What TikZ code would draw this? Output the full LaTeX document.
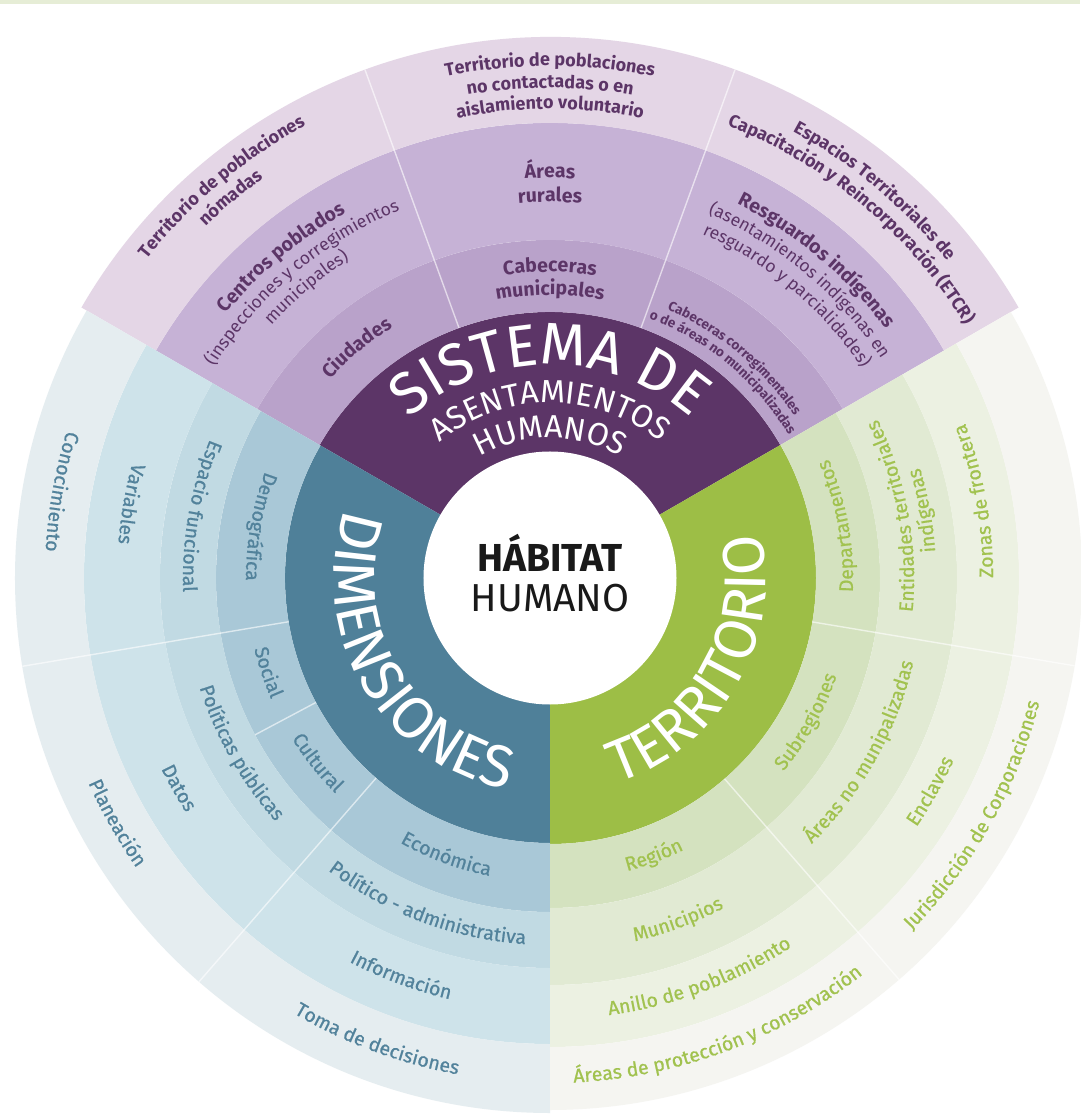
\documentclass[tikz,border=0pt]{standalone}
\usepackage{fontspec}
\setmainfont{Fira Sans}
\newfontfamily\semifira{Fira Sans}[FakeBold=0.8]
\usetikzlibrary{decorations.text}

\definecolor{sisdark}{HTML}{5C3567}
\definecolor{sisA}{HTML}{B9A2CA}
\definecolor{sisB}{HTML}{C6B2D6}
\definecolor{sisC}{HTML}{E4D6E6}
\definecolor{dimdark}{HTML}{4F8099}
\definecolor{dimA}{HTML}{A9C8D7}
\definecolor{dimB}{HTML}{C1DAE3}
\definecolor{dimC}{HTML}{CEE3EA}
\definecolor{dimD}{HTML}{E5EDF0}
\definecolor{terdark}{HTML}{9DBE46}
\definecolor{terA}{HTML}{D4E2BF}
\definecolor{terB}{HTML}{E1EAD3}
\definecolor{terC}{HTML}{ECF1E2}
\definecolor{terD}{HTML}{F5F5F1}
\definecolor{dimtext}{HTML}{52829B}
\definecolor{tertext}{HTML}{A1C24F}
\definecolor{topstrip}{HTML}{E6EDD6}

% label fonts
\newcommand{\lblsis}{\fontsize{19.5}{22}\selectfont\bfseries\color{sisdark}}
\newcommand{\lblsisreg}{\fontsize{17.5}{20}\selectfont\color{sisdark}}
\newcommand{\lblsissmall}{\fontsize{13.5}{15}\selectfont\bfseries\color{sisdark}}
\newcommand{\lblsisout}{\fontsize{18}{21}\selectfont\bfseries\color{sisdark}}
\newcommand{\lbldim}{\fontsize{19.5}{22}\selectfont\semifira\color{dimtext}}
\newcommand{\lblter}{\fontsize{19.5}{22}\selectfont\semifira\color{tertext}}
\newcommand{\bigwhite}{\fontsize{59}{60}\selectfont\color{white}}
\newcommand{\bigwhitesmall}{\fontsize{32}{34}\selectfont\color{white}}

% ring piece: from, to, inner, outer, colour
\newcommand{\ringpart}[5]{\fill[#5] (#1:#3) arc[start angle=#1, end angle=#2, radius=#3] -- (#2:#4) arc[start angle=#2, end angle=#1, radius=#4] -- cycle;}
% text on an arc: centre angle, radius, format, text
\newcommand{\toptext}[4]{\path[decorate, decoration={text along path, text align=center, text format delimiters={|}{|}, text={|#3|#4}}] ({#1+80}:#2) arc[start angle={#1+80}, end angle={#1-80}, radius=#2];}
\newcommand{\bottomtext}[4]{\path[decorate, decoration={text along path, text align=center, text format delimiters={|}{|}, text={|#3|#4}}] ({#1-80}:#2) arc[start angle={#1-80}, end angle={#1+80}, radius=#2];}

\begin{document}
\begin{tikzpicture}[x=1pt, y=1pt, sepline/.style={white, opacity=0.6, line width=1.4pt}]
        \useasboundingbox (-550,-537) rectangle (530,578);
        \fill[white] (-550,-537) rectangle (530,578);
        \fill[topstrip] (-550,574) rectangle (530,578);

        % Dark ring
        \ringpart{30}{150}{100pt}{266pt}{sisdark}
        \ringpart{150}{270}{100pt}{265pt}{dimdark}
        \ringpart{270}{390}{100pt}{266pt}{terdark}

        % Rings
        \foreach \ri/\ro/\col in {266pt/338pt/sisA, 338pt/455pt/sisB, 455pt/541pt/sisC}
            {\ringpart{30}{150}{\ri}{\ro}{\col}}
        \foreach \ri/\ro/\col in {265pt/334pt/dimA, 334pt/390pt/dimB, 390pt/466pt/dimC, 466pt/535pt/dimD}
            {\ringpart{150}{270}{\ri}{\ro}{\col}}
        \foreach \ri/\ro/\col in {266pt/330pt/terA, 330pt/407pt/terB, 407pt/469pt/terC, 469pt/532pt/terD}
            {\ringpart{270}{390}{\ri}{\ro}{\col}}

        % Separators
        \foreach \a in {70,110} \draw[sepline] (\a:266pt) -- (\a:541pt);
        \foreach \a in {189.5,229} \draw[sepline] (\a:265pt) -- (\a:535pt);
        \draw[sepline] (208:265pt) -- (208:334pt);
        \foreach \a in {311,350.5} \draw[sepline] (\a:266pt) -- (\a:532pt);

        % Centre
        \node[circle, fill=white, minimum size=253pt, inner sep=0pt] (core) at (0,0) {};
        \node[anchor=base, font=\fontsize{39}{40}\selectfont\bfseries, text=black!90] (habitat) at (0,6) {HÁBITAT};
        \node[anchor=base, font=\fontsize{39}{40}\selectfont, text=black!90] (humano) at (0,-34) {HUMANO};

        % Main words
        \toptext{90}{213pt}{\bigwhite}{SISTEMA DE}
        \toptext{90}{175pt}{\bigwhitesmall}{ASENTAMIENTOS}
        \toptext{90}{140pt}{\bigwhitesmall}{HUMANOS}
        \bottomtext{210}{216pt}{\bigwhite}{DIMENSIONES}
        \bottomtext{330}{216pt}{\bigwhite}{TERRITORIO}

        % Sistema de asentamientos humanos
        \toptext{130}{296pt}{\lblsis}{Ciudades}
        \toptext{90}{306pt}{\lblsis}{Cabeceras}
        \toptext{90}{283pt}{\lblsis}{municipales}
        \toptext{50}{293pt}{\lblsissmall}{Cabeceras corregimentales}
        \toptext{50}{278pt}{\lblsissmall}{o de áreas no municipalizadas}
        \toptext{130}{418pt}{\lblsis}{Centros poblados}
        \toptext{130}{397pt}{\lblsisreg}{(inspecciones y corregimientos}
        \toptext{130}{376pt}{\lblsisreg}{municipales)}
        \toptext{90}{400pt}{\lblsis}{Áreas}
        \toptext{90}{376pt}{\lblsis}{rurales}
        \toptext{50}{418pt}{\lblsis}{Resguardos indígenas}
        \toptext{50}{397pt}{\lblsisreg}{(asentamientos indígenas en}
        \toptext{50}{376pt}{\lblsisreg}{resguardo y parcialidades)}
        \toptext{130}{514pt}{\lblsisout}{Territorio de poblaciones}
        \toptext{130}{492pt}{\lblsisout}{nómadas}
        \toptext{90}{512pt}{\lblsisout}{Territorio de poblaciones}
        \toptext{90}{490pt}{\lblsisout}{no contactadas o en}
        \toptext{90}{469pt}{\lblsisout}{aislamiento voluntario}
        \toptext{50}{508pt}{\lblsisout}{Espacios Territoriales de}
        \toptext{50}{486pt}{\lblsisout}{Capacitación y Reincorporación (ETCR)}

        % Dimensiones
        \bottomtext{170}{304pt}{\lbldim}{Demográfica}
        \bottomtext{198.5}{304pt}{\lbldim}{Social}
        \bottomtext{218.5}{304pt}{\lbldim}{Cultural}
        \bottomtext{249.5}{304pt}{\lbldim}{Económica}
        \bottomtext{170}{367pt}{\lbldim}{Espacio funcional}
        \bottomtext{209.5}{367pt}{\lbldim}{Políticas públicas}
        \bottomtext{249.5}{367pt}{\lbldim}{Político - administrativa}
        \bottomtext{170}{433pt}{\lbldim}{Variables}
        \bottomtext{209.5}{433pt}{\lbldim}{Datos}
        \bottomtext{249.5}{433pt}{\lbldim}{Información}
        \bottomtext{170}{505pt}{\lbldim}{Conocimiento}
        \bottomtext{209.5}{505pt}{\lbldim}{Planeación}
        \bottomtext{249.5}{505pt}{\lbldim}{Toma de decisiones}

        % Territorio
        \bottomtext{290.5}{303pt}{\lblter}{Región}
        \bottomtext{330.75}{303pt}{\lblter}{Subregiones}
        \bottomtext{10.25}{303pt}{\lblter}{Departamentos}
        \bottomtext{290.5}{373pt}{\lblter}{Municipios}
        \bottomtext{330.75}{373pt}{\lblter}{Áreas no munipalizadas}
        \bottomtext{10.25}{364pt}{\lblter}{Entidades territoriales}
        \bottomtext{10.25}{386pt}{\lblter}{indígenas}
        \bottomtext{290.5}{441pt}{\lblter}{Anillo de poblamiento}
        \bottomtext{330.75}{443pt}{\lblter}{Enclaves}
        \bottomtext{10.25}{443pt}{\lblter}{Zonas de frontera}
        \bottomtext{290.5}{505pt}{\lblter}{Áreas de protección y conservación}
        \bottomtext{330.75}{505pt}{\lblter}{Jurisdicción de Corporaciones}
\end{tikzpicture}
\end{document}
